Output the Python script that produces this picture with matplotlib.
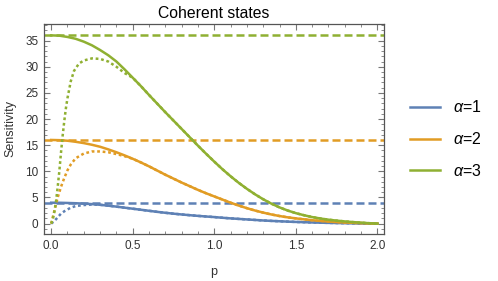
import matplotlib.pyplot as plt
from matplotlib.ticker import MultipleLocator

plt.rcParams['font.family'] = ['Liberation Sans', 'DejaVu Sans']
plt.rcParams['mathtext.fontset'] = 'custom'
plt.rcParams['mathtext.it'] = 'Liberation Sans:italic'

# valores (curvas continuas)
p_solid = [0.0, 0.05, 0.1, 0.15, 0.2, 0.25, 0.3, 0.35, 0.4, 0.45, 0.5,
           0.55, 0.6, 0.65, 0.7, 0.75, 0.8, 0.85, 0.9, 0.95, 1.0,
           1.05, 1.1, 1.15, 1.2, 1.25, 1.3, 1.35, 1.4, 1.45, 1.5,
           1.55, 1.6, 1.65, 1.7, 1.75, 1.8, 1.85, 1.9, 1.95, 2.0]
blue_solid = [4.0, 3.99, 3.95, 3.9, 3.82, 3.73, 3.6, 3.43, 3.25, 3.05, 2.85,
              2.65, 2.45, 2.25, 2.07, 1.9, 1.75, 1.61, 1.48, 1.36, 1.25,
              1.12, 1.0, 0.9, 0.8, 0.7, 0.6, 0.52, 0.45, 0.38, 0.32,
              0.27, 0.22, 0.18, 0.14, 0.11, 0.08, 0.05, 0.03, 0.01, 0.0]
orange_solid = [16.0, 15.96, 15.85, 15.65, 15.4, 15.08, 14.7, 14.2, 13.65, 13.05, 12.4,
                11.7, 10.95, 10.15, 9.35, 8.6, 7.85, 7.15, 6.45, 5.8, 5.2,
                4.6, 4.0, 3.45, 2.95, 2.5, 2.1, 1.75, 1.45, 1.2, 1.0,
                0.82, 0.65, 0.52, 0.4, 0.3, 0.22, 0.15, 0.1, 0.05, 0.0]
green_solid = [36.0, 35.95, 35.7, 35.35, 34.8, 34.1, 33.2, 32.2, 31.0, 29.5, 27.9,
               26.3, 24.6, 22.95, 21.3, 19.7, 18.1, 16.5, 14.9, 13.35, 11.85,
               10.4, 9.05, 7.8, 6.65, 5.6, 4.65, 3.82, 3.1, 2.5, 2.0,
               1.6, 1.25, 0.98, 0.75, 0.57, 0.42, 0.29, 0.18, 0.08, 0.0]

# curvas punteadas: tramo inicial leido; despues coinciden con las continuas
blue_dot_p = [0.0, 0.02, 0.04, 0.06, 0.08, 0.1, 0.12, 0.15, 0.2, 0.25]
blue_dot_v = [0.0, 0.5, 1.2, 1.9, 2.35, 2.7, 3.05, 3.35, 3.55, 3.65]
orange_dot_p = [0.0, 0.02, 0.04, 0.06, 0.08, 0.1, 0.12, 0.15, 0.2, 0.25, 0.3,
                0.35, 0.4, 0.45]
orange_dot_v = [0.0, 2.5, 5.0, 7.0, 8.7, 10.2, 11.3, 12.5, 13.4, 13.8, 13.8,
                13.65, 13.3, 12.9]
green_dot_p = [0.0, 0.01, 0.02, 0.03, 0.04, 0.05, 0.06, 0.07, 0.08, 0.09, 0.1,
               0.12, 0.14, 0.17, 0.2, 0.25, 0.3, 0.35, 0.4, 0.45]
green_dot_v = [0.0, 0.8, 2.3, 4.3, 7.0, 10.0, 13.5, 16.7, 19.5, 22.0, 24.0,
               27.2, 29.2, 30.6, 31.2, 31.6, 31.5, 31.0, 30.0, 28.8]

alphas = [1, 2, 3]
limits = [4 * a ** 2 for a in alphas]
colors = ['#5E81B5', '#E19C24', '#8FB032']

fig = plt.figure(figsize=(4.98, 2.81), dpi=100)
ax = fig.add_axes([0.088, 0.167, 0.683, 0.748])

solids = [blue_solid, orange_solid, green_solid]
dots = [(blue_dot_p, blue_dot_v), (orange_dot_p, orange_dot_v),
        (green_dot_p, green_dot_v)]
handles = []
for a, lim, c, s, (dp, dv) in zip(alphas, limits, colors, solids, dots):
    # unir el tramo punteado con la parte donde coincide con la continua
    tail = [i for i, p in enumerate(p_solid) if p > dp[-1] + 1e-9]
    xs = dp + [p_solid[i] for i in tail]
    ys = dv + [s[i] for i in tail]
    ax.axhline(lim, color=c, lw=1.8, dashes=(3.2, 1.6))
    ax.plot(xs, ys, color=c, lw=1.8, dashes=(1.1, 1.1))
    h, = ax.plot(p_solid, s, color=c, lw=1.8)
    handles.append(h)

ax.set_xlim(-0.045, 2.04)
ax.set_ylim(-2.0, 38.2)
ax.xaxis.set_major_locator(MultipleLocator(0.5))
ax.xaxis.set_minor_locator(MultipleLocator(0.1))
ax.yaxis.set_major_locator(MultipleLocator(5))
ax.yaxis.set_minor_locator(MultipleLocator(1))
ax.tick_params(which='both', direction='in', top=True, right=True,
               color='#777777', labelsize=8.5, labelcolor='#333333')
ax.tick_params(which='major', length=4, width=0.8, pad=4)
ax.tick_params(which='minor', length=2.2, width=0.6)
for sp in ax.spines.values():
    sp.set_color('#555555')
    sp.set_linewidth(0.9)

ax.set_title('Coherent states', fontsize=11.3, pad=4)
ax.set_xlabel('p', fontsize=9, color='#333333', labelpad=10)
ax.set_ylabel('Sensitivity', fontsize=9, color='#333333', labelpad=6)

fig.legend(handles, [r'$\alpha$=%d' % a for a in alphas],
           loc='center left', bbox_to_anchor=(0.81, 0.505), frameon=False,
           borderaxespad=0, fontsize=11.5, handlelength=1.9,
           handletextpad=0.8, labelspacing=1.0)

fig.savefig('out.png', dpi=100)
